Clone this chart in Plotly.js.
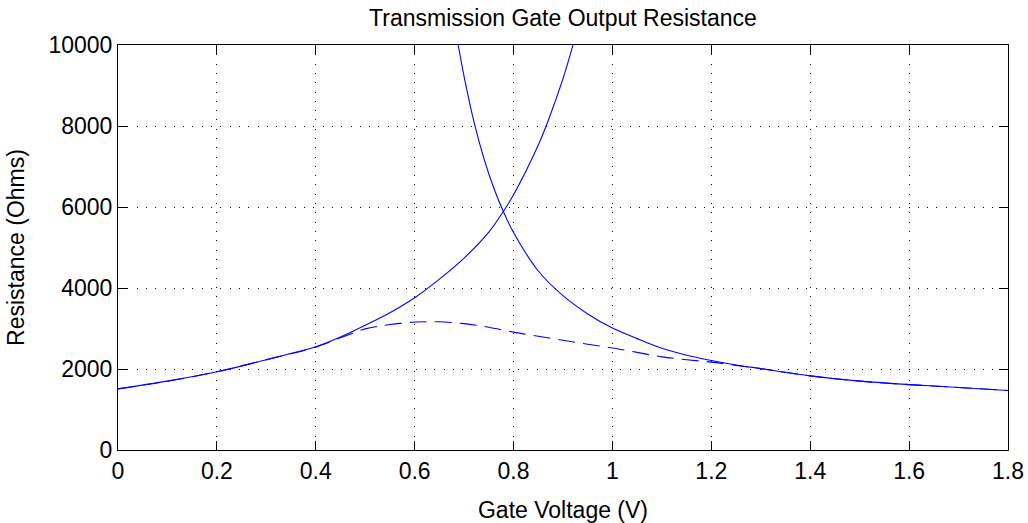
<!DOCTYPE html>
<html>
<head>
<meta charset="utf-8">
<script src="https://cdn.plot.ly/plotly-3.0.1.min.js"></script>
<style>
  html, body { margin: 0; padding: 0; background: #fff; }
  #chart { width: 1028px; height: 523px; }
</style>
</head>
<body>
<div id="chart"></div>
<script>
// Gate voltage sample points (V) and resistances (Ohms) for each branch.
const vPmos = [0.0, 0.1, 0.2, 0.3, 0.4, 0.45, 0.5, 0.55, 0.6, 0.65, 0.7, 0.75, 0.78, 0.8, 0.85, 0.87, 0.9, 0.92, 0.94];
const rPmos = [1510, 1700, 1930, 2230, 2550, 2790, 3080, 3390, 3760, 4220, 4740, 5380, 5900, 6300, 7530, 8130, 9170, 9990, 10900];

const vNmos = [0.68, 0.688, 0.70, 0.72, 0.74, 0.76, 0.78, 0.80, 0.85, 0.90, 0.95, 1.00, 1.05, 1.10, 1.15, 1.20, 1.25, 1.30, 1.40, 1.50, 1.60, 1.70, 1.80];
const rNmos = [10560, 10000, 9220, 8100, 7200, 6470, 5870, 5370, 4420, 3810, 3360, 3010, 2750, 2510, 2340, 2210, 2100, 2010, 1830, 1700, 1615, 1545, 1470];

const vGate = [0.0, 0.1, 0.2, 0.3, 0.4, 0.45, 0.5, 0.55, 0.6, 0.65, 0.7, 0.75, 0.8, 0.85, 0.9, 0.95, 1.0, 1.05, 1.1, 1.15, 1.2, 1.25, 1.3, 1.4, 1.5, 1.6, 1.7, 1.8];
const rGate = [1510, 1700, 1930, 2230, 2540, 2770, 2990, 3100, 3160, 3165, 3120, 3030, 2910, 2810, 2710, 2610, 2520, 2410, 2300, 2230, 2170, 2090, 2010, 1830, 1700, 1615, 1545, 1470];

const xTickVals = [0, 0.2, 0.4, 0.6, 0.8, 1.0, 1.2, 1.4, 1.6, 1.8];
const xTickText = ['0', '0.2', '0.4', '0.6', '0.8', '1', '1.2', '1.4', '1.6', '1.8'];
const yTickVals = [0, 2000, 4000, 6000, 8000, 10000];
const yTickText = ['0', '2000', '4000', '6000', '8000', '10000'];

const FONT = '"Liberation Sans", Arial, Helvetica, sans-serif';
const FS = 23;
const BLUE = '#0000ff';

const traces = [
  { x: vPmos, y: rPmos, type: 'scatter', mode: 'lines',
    line: { color: BLUE, width: 1.1, shape: 'spline', smoothing: 0.8 }, hoverinfo: 'skip' },
  { x: vNmos, y: rNmos, type: 'scatter', mode: 'lines',
    line: { color: BLUE, width: 1.1, shape: 'spline', smoothing: 0.8 }, hoverinfo: 'skip' },
  { x: vGate, y: rGate, type: 'scatter', mode: 'lines',
    line: { color: BLUE, width: 1.1, shape: 'spline', smoothing: 0.8, dash: '17px,8px' }, hoverinfo: 'skip' }
];

const axisCommon = {
  showline: true, linecolor: '#000', linewidth: 1, mirror: 'ticks',
  ticks: 'inside', ticklen: 9, tickwidth: 1, tickcolor: '#000',
  showgrid: true, gridcolor: '#000', gridwidth: 1, griddash: '1px,8.3px',
  zeroline: false, fixedrange: true,
  tickfont: { family: FONT, size: FS, color: '#000' }
};

const layout = {
  width: 1028, height: 523,
  margin: { l: 118, r: 20, t: 45, b: 73 },
  paper_bgcolor: '#fff', plot_bgcolor: '#fff',
  showlegend: false,
  title: { text: 'Transmission Gate Output Resistance', font: { family: FONT, size: FS, color: '#000' },
           x: 0.5, xref: 'paper', y: 0.966, yref: 'container', yanchor: 'middle' },
  xaxis: Object.assign({}, axisCommon, {
    range: [0, 1.8], tickmode: 'array', tickvals: xTickVals, ticktext: xTickText,
    title: { text: 'Gate Voltage (V)', font: { family: FONT, size: FS, color: '#000' }, standoff: 22 }
  }),
  yaxis: Object.assign({}, axisCommon, {
    range: [0, 10000], tickmode: 'array', tickvals: yTickVals, ticktext: yTickText,
    title: { text: 'Resistance (Ohms)', font: { family: FONT, size: FS, color: '#000' }, standoff: 17 }
  })
};

Plotly.newPlot('chart', traces, layout, { displayModeBar: false, staticPlot: true });
</script>
</body>
</html>
